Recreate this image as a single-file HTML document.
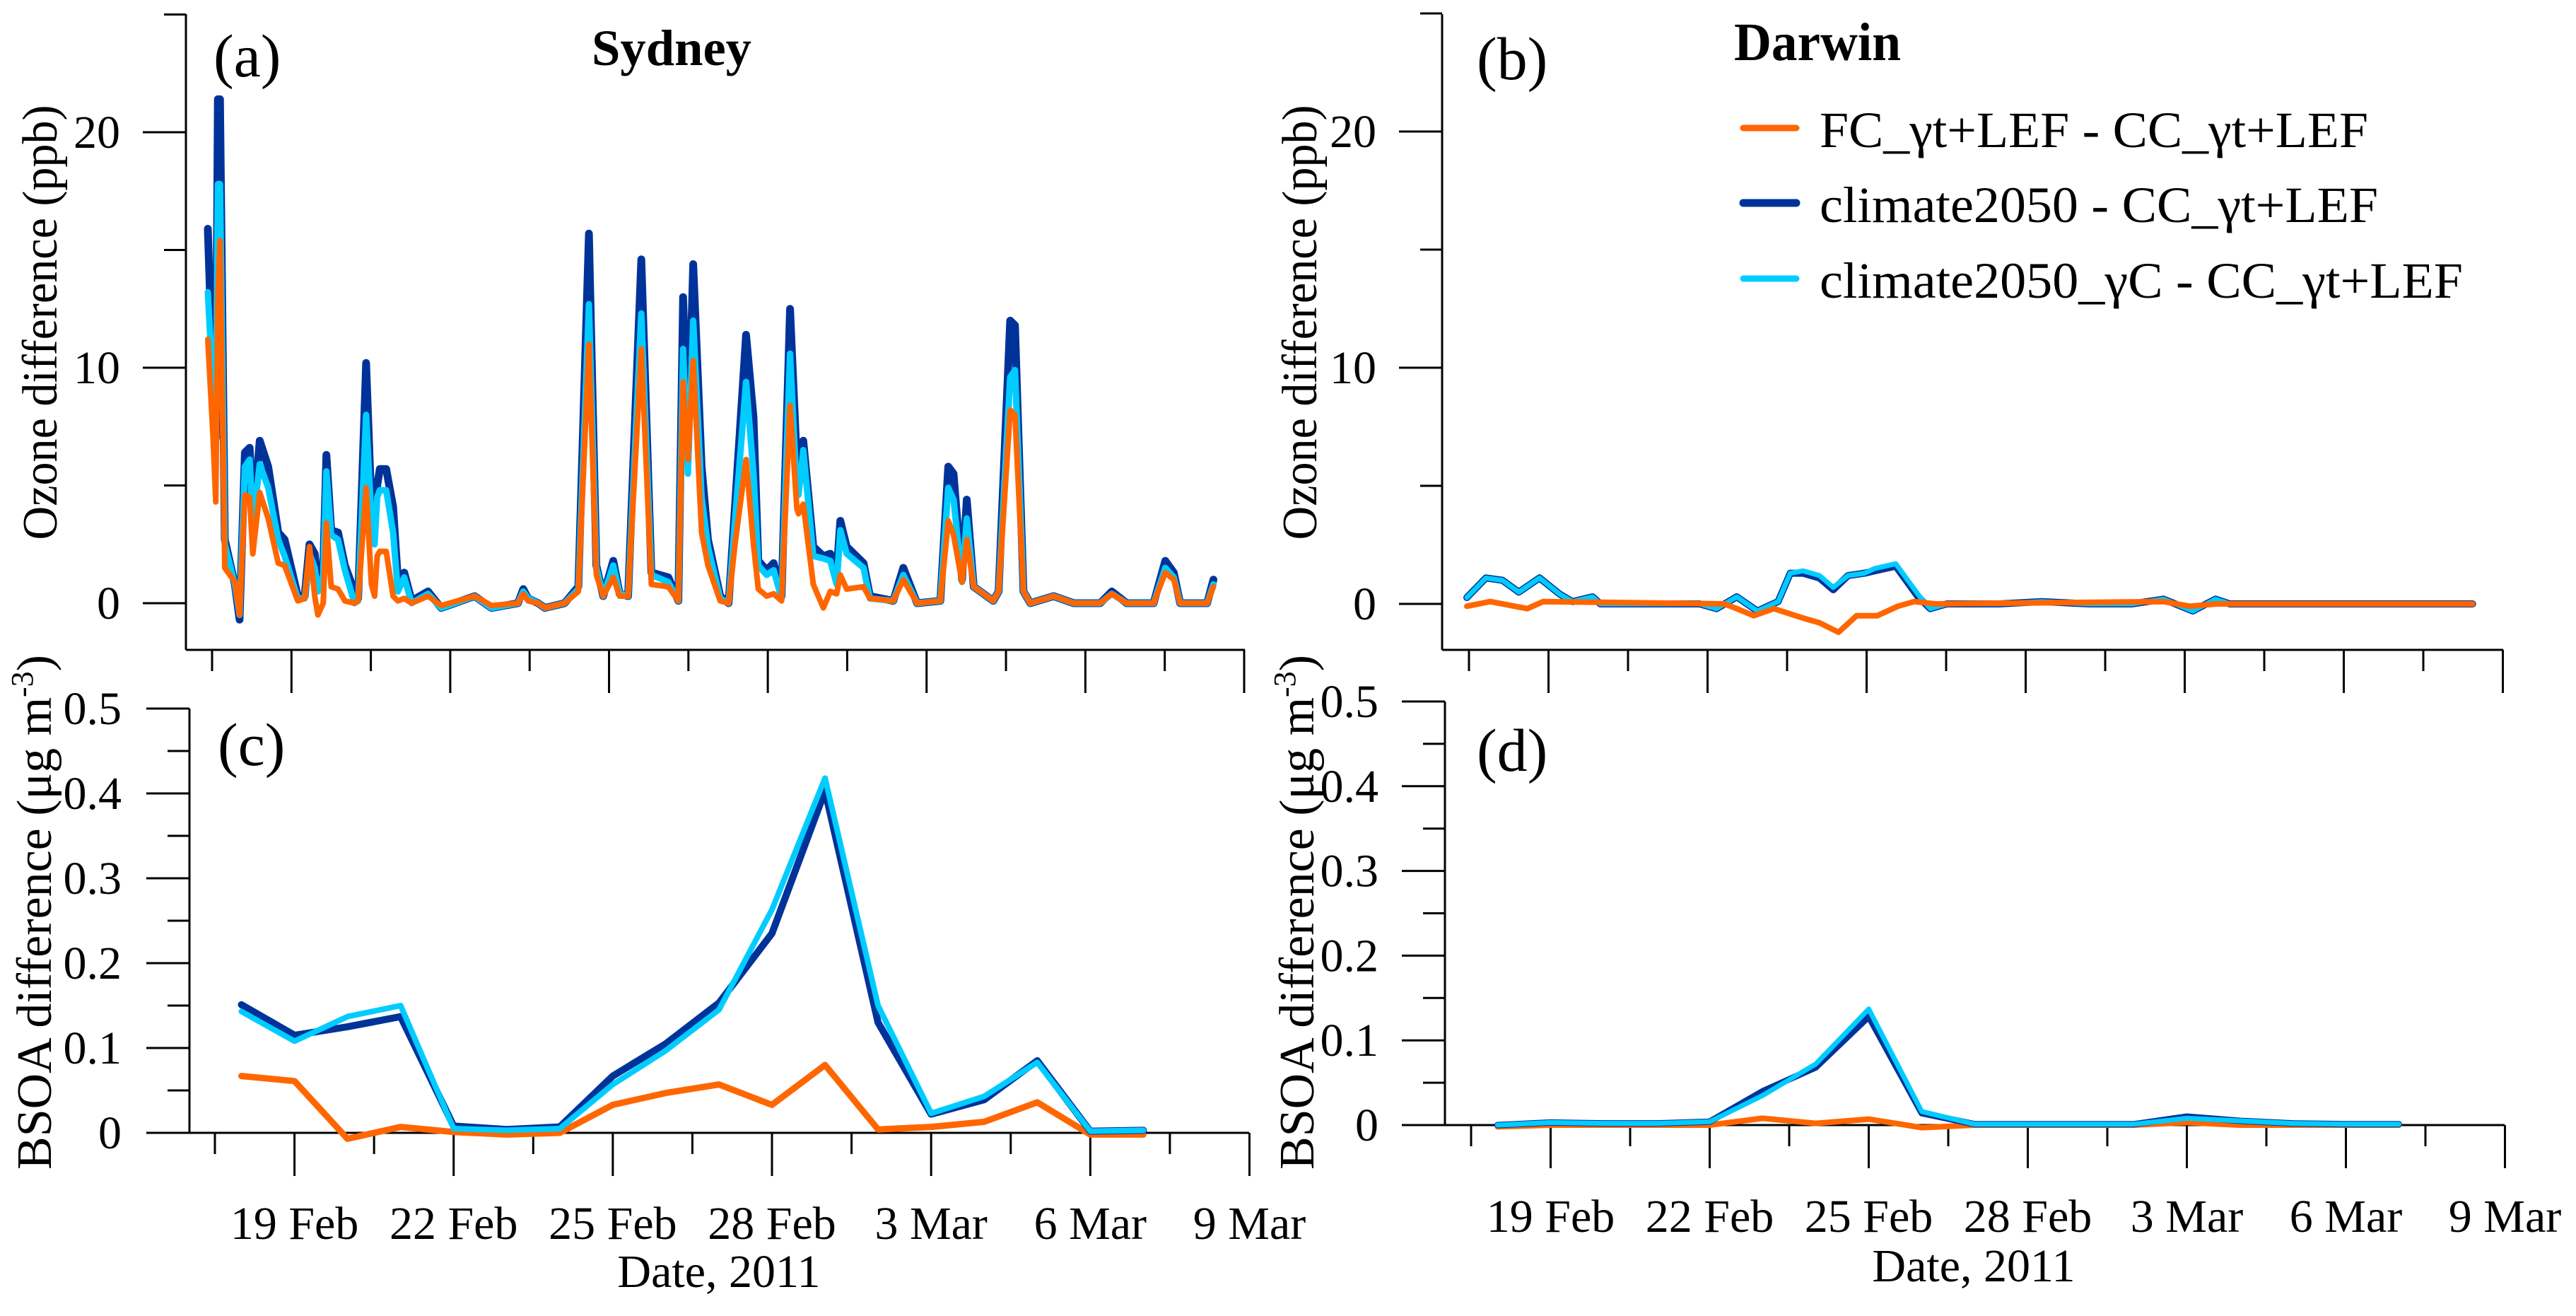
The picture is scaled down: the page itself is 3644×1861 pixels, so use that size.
<!DOCTYPE html>
<html><head><meta charset="utf-8"><style>
html,body{margin:0;padding:0;background:#fff;}
svg, svg text{font-family:"Liberation Serif","Times New Roman",serif;}
</style></head><body>
<svg id="chart" width="3644" height="1856" viewBox="0 0 3644 1856" xmlns="http://www.w3.org/2000/svg" font-family="Liberation Serif, serif">
<rect x="0" y="0" width="3644" height="1856" fill="#fff"/>
<g id="g-a"></g>
<g id="g-b"></g>
<g id="g-c"></g>
<g id="g-d"></g>
<g id="legend"></g>
</svg>
<script>
// ---------- DATA ----------
// days: day of Feb 2011 (29 = 1 Mar)
const sydO3Days = [17.42,17.52,17.57,17.61,17.65,17.74,17.93,18.02,18.12,18.21,18.27,18.40,18.56,18.75,18.87,19.12,19.25,19.34,19.44,19.50,19.60,19.66,19.75,19.88,20.01,20.19,20.26,20.41,20.51,20.57,20.62,20.67,20.79,20.92,21.01,21.13,21.27,21.58,21.83,22.46,22.78,23.28,23.38,23.47,23.66,23.79,24.16,24.42,24.62,24.76,24.89,25.08,25.20,25.36,25.61,25.80,26.12,26.31,26.40,26.49,26.59,26.75,26.87,27.10,27.26,27.38,27.59,27.73,27.82,27.98,28.11,28.26,28.42,28.55,28.58,28.67,28.86,29.05,29.18,29.30,29.37,29.49,29.81,29.93,30.37,30.56,30.82,31.26,31.41,31.51,31.67,31.76,31.89,32.26,32.36,32.58,32.67,32.83,32.96,33.40,33.78,34.28,34.50,34.78,35.29,35.51,35.67,35.79,36.30,36.42];
const sydO3Dark = [15.9,9,7,21.4,21.4,2.7,0.8,-0.7,6.4,6.6,3.4,6.9,5.8,3.0,2.7,0.3,0.3,2.5,2.1,0.8,1.4,6.3,3.1,3.0,1.6,0.5,0.2,10.2,4.1,3.4,5.0,5.7,5.7,4.1,1.0,1.3,0.1,0.5,-0.2,0.3,-0.2,0,0.6,0.2,0,-0.2,0,0.7,15.7,1.6,0.3,1.8,0.4,0.3,14.6,1.3,1.1,0.1,13.0,6.4,14.4,5.8,2.7,0.3,0,4.1,11.4,7.9,1.8,1.4,1.7,0.3,12.5,5.9,5.9,6.9,2.4,2.0,2.1,1.3,3.5,2.4,1.7,0.3,0.1,1.5,0,0.1,5.8,5.5,1.0,4.4,0.7,0.1,0.5,12.0,11.8,0.5,0,0.3,0,0,0.5,0,0,1.8,1.3,0,0,1.0];
const sydO3Cyan = [13.2,9,6.5,17.8,17.8,2.5,0.8,-0.5,5.8,6.1,3.3,5.9,4.9,2.7,2.0,0.2,0.2,2.1,1.5,0.5,1.2,5.6,2.9,2.7,1.4,0,0.1,8.0,3.5,2.5,4.5,4.8,4.8,3.0,0.5,1.1,0,0.4,-0.2,0.3,-0.2,0,0.5,0.2,0,-0.2,0,0.6,12.7,1.5,0.3,1.6,0.4,0.3,12.3,1.2,0.9,0.1,10.8,5.5,12.0,4.5,2.4,0.2,0,3.5,9.4,5.5,1.6,1.2,1.4,0.2,10.6,4.6,4.6,6.5,2.0,1.9,1.8,0.8,3.1,2.1,1.5,0.2,0.1,1.2,0,0.1,4.9,4.4,0.9,3.6,0.7,0.1,0.5,9.6,9.9,0.5,0,0.3,0,0,0.4,0,0,1.5,1.1,0,0,0.8];
const sydO3Orange = [11.2,7,4.3,13,15.4,1.5,0.9,-0.5,4.6,4.5,2.1,4.7,3.6,1.7,1.6,0.1,0.2,2.4,0.3,-0.5,0,3.4,0.7,0.6,0.1,0,0.1,4.9,0.8,0.3,2.0,2.2,2.2,0.3,0.1,0.2,0,0.3,-0.1,0.3,-0.1,0,0.4,0.1,0,-0.2,0,0.5,11,1.2,0.3,1.1,0.3,0.3,10.8,0.8,0.7,0.1,9.4,6.1,10.3,3.0,1.6,0.1,0,2.5,6.1,2.5,0.6,0.3,0.4,0.1,8.4,4.0,3.8,4.2,0.8,-0.2,0.5,0.4,1.2,0.6,0.7,0.2,0.1,1.0,0,0.1,3.5,2.9,0.9,2.7,0.7,0.1,0.5,8.2,8.0,0.5,0,0.3,0,0,0.4,0,0,1.3,1.0,0,0,0.7];

const darO3Days = [17.46,17.82,18.13,18.44,18.83,19.22,19.45,19.83,19.98,21.85,22.17,22.55,22.94,23.33,23.56,23.80,24.11,24.37,24.65,24.96,25.15,25.55,25.97,26.20,26.51,27.5,28.3,29.2,30.0,30.60,31.15,31.58,31.85,33.0,34.5,35.5,36.43];
const darO3Dark = [0.27,1.1,1.0,0.5,1.1,0.4,0.1,0.3,0,0,-0.2,0.3,-0.3,0.1,1.3,1.3,1.1,0.6,1.2,1.3,1.4,1.6,0.3,-0.2,0,0,0.1,0,0,0.2,-0.3,0.2,0,0,0,0,0];
const darO3Cyan = [0.27,1.1,1.0,0.5,1.1,0.4,0.1,0.3,0,0,-0.2,0.3,-0.3,0.1,1.3,1.4,1.2,0.7,1.2,1.3,1.5,1.7,0.4,-0.2,0,0,0.1,0,0,0.2,-0.3,0.2,0,0,0,0,0];
const darO3OrangeDays = [17.46,17.9,18.6,18.9,22.32,22.55,22.87,23.25,23.8,24.11,24.47,24.81,25.2,25.59,25.9,26.3,30.6,31.1,31.6,36.43];
const darO3Orange = [-0.1,0.1,-0.2,0.1,0,-0.2,-0.5,-0.2,-0.6,-0.8,-1.2,-0.5,-0.5,-0.1,0.1,0,0.1,-0.1,0,0];

const bsoaDays = [18,19,20,21,22,23,24,25,26,27,28,29,30,31,32,33,34,35];
const sydBsoaDark = [0.151,0.115,0.125,0.137,0.008,0.004,0.007,0.067,0.105,0.153,0.235,0.403,0.130,0.022,0.039,0.085,0.002,0.003];
const sydBsoaCyan = [0.143,0.108,0.137,0.150,0.005,0.003,0.005,0.057,0.097,0.145,0.263,0.418,0.150,0.023,0.043,0.083,0.002,0.003];
const sydBsoaOrange = [0.067,0.061,-0.007,0.007,0.001,-0.002,0,0.033,0.047,0.057,0.033,0.080,0.004,0.007,0.013,0.036,-0.002,-0.002];
const darBsoaDark = [0,0.003,0.002,0.002,0.004,0.040,0.068,0.128,0.014,0.001,0.001,0.001,0.001,0.010,0.005,0.002,0.001,0.001];
const darBsoaCyan = [0,0.003,0.002,0.002,0.004,0.035,0.072,0.137,0.016,0.001,0.001,0.001,0.001,0.008,0.005,0.002,0.001,0.001];
const darBsoaOrange = [-0.002,0,0,0,0,0.008,0.002,0.007,-0.003,0,0,0,0,0.003,0,0,0,0];

const dateTickLabels = ["19 Feb","22 Feb","25 Feb","28 Feb","3 Mar","6 Mar","9 Mar"];
const ozoneTicks = [0,10,20];
const ozoneMinor = [5,15,25];
const bsoaTicks = [0,0.1,0.2,0.3,0.4,0.5];
const bsoaMinor = [0.05,0.15,0.25,0.35,0.45];

// ---------- RENDER ----------
const NS = "http://www.w3.org/2000/svg";
const FONT = "Liberation Serif, Times New Roman, serif";
const C_OR = "#FF6600", C_DK = "#003399", C_CY = "#00CCFF";
function mk(parent, tag, attrs, text){
  const e = document.createElementNS(NS, tag);
  for (const k in attrs) e.setAttribute(k, attrs[k]);
  if (tag === "text") e.setAttribute("font-family", FONT);
  if (text !== undefined) e.textContent = text;
  parent.appendChild(e);
  return e;
}
function makePanel(id, cfg){
  const g = document.getElementById(id);
  const xs = d => cfg.x0 + (d - 17.5) * cfg.ppd;
  const ys = v => cfg.y0 - v * cfg.ppu;
  const ya = mk(g, "line", {x1:cfg.ax, y1:cfg.yTop, x2:cfg.ax, y2:cfg.yBot, stroke:"#000","stroke-width":3});
  
  
  const xa = mk(g, "line", {x1:cfg.ax, y1:cfg.yBot, x2:cfg.xRight, y2:cfg.yBot, stroke:"#000","stroke-width":3});
  
  
  cfg.ticks.forEach(v => {
    const t = mk(g, "line", {x1:cfg.ax-61, y1:ys(v), x2:cfg.ax, y2:ys(v), stroke:"#000","stroke-width":3});
    
    
    const l = mk(g, "text", {x:cfg.labRight, y:ys(v)+22, "text-anchor":"end","font-size":66}, cfg.fmt(v));
    
    
  });
  cfg.minor.forEach(v => {
    const t = mk(g, "line", {x1:cfg.ax-31, y1:ys(v), x2:cfg.ax, y2:ys(v), stroke:"#000","stroke-width":3});
    
    
  });
  for (let k = 0; k <= 13; k++) {
    const d = 17.5 + 1.5 * k;
    const major = (k % 2 === 1);
    const t = mk(g, "line", {x1:xs(d), y1:cfg.yBot, x2:xs(d), y2:cfg.yBot + (major?61:30), stroke:"#000","stroke-width":3});
    
    
    if (major && cfg.dateY) {
      const l = mk(g, "text", {x:xs(d), y:cfg.dateY, "text-anchor":"middle","font-size":66}, dateTickLabels[(k-1)/2]);
      
      
    }
  }
  return {g, xs, ys};
}
function drawSeries(p, days, vals, color, width, name){
  const pts = days.map((d,i) => p.xs(d).toFixed(1) + "," + p.ys(vals[i]).toFixed(1)).join(" ");
  const pl = mk(p.g, "polyline", {points:pts, fill:"none", stroke:color, "stroke-width":width, "stroke-linejoin":"round", "stroke-linecap":"round"});
  
  
}

const fmtInt = v => String(v);
const fmt1 = v => v === 0 ? "0" : v.toFixed(1);

const pa = makePanel("g-a", {x0:300, ppd:74.87, y0:853, ppu:33.3, ax:263, yTop:20, yBot:919, xRight:1761, ticks:ozoneTicks, minor:ozoneMinor, labRight:170, fmt:fmtInt});
const pb = makePanel("g-b", {x0:2078, ppd:75.0, y0:854, ppu:33.4, ax:2040, yTop:20, yBot:919, xRight:3541, ticks:ozoneTicks, minor:ozoneMinor, labRight:1947, fmt:fmtInt});
const pc = makePanel("g-c", {x0:304, ppd:75.05, y0:1602, ppu:1200, ax:268, yTop:1002, yBot:1602, xRight:1767, ticks:bsoaTicks, minor:bsoaMinor, labRight:172, fmt:fmt1, dateY:1752});
const pd = makePanel("g-d", {x0:2081, ppd:75.0, y0:1591, ppu:1198, ax:2044, yTop:992, yBot:1591, xRight:3543, ticks:bsoaTicks, minor:bsoaMinor, labRight:1950, fmt:fmt1, dateY:1742});

drawSeries(pa, sydO3Days, sydO3Dark, C_DK, 11, "sydney-ozone-climate2050");
drawSeries(pa, sydO3Days, sydO3Cyan, C_CY, 9, "sydney-ozone-climate2050-gammaC");
drawSeries(pa, sydO3Days, sydO3Orange, C_OR, 8, "sydney-ozone-fc");
drawSeries(pb, darO3Days, darO3Dark, C_DK, 10, "darwin-ozone-climate2050");
drawSeries(pb, darO3Days, darO3Cyan, C_CY, 7, "darwin-ozone-climate2050-gammaC");
drawSeries(pb, darO3OrangeDays, darO3Orange, C_OR, 8, "darwin-ozone-fc");
drawSeries(pc, bsoaDays, sydBsoaOrange, C_OR, 9, "sydney-bsoa-fc");
drawSeries(pc, bsoaDays, sydBsoaDark, C_DK, 10, "sydney-bsoa-climate2050");
drawSeries(pc, bsoaDays, sydBsoaCyan, C_CY, 8, "sydney-bsoa-climate2050-gammaC");
drawSeries(pd, bsoaDays, darBsoaOrange, C_OR, 8, "darwin-bsoa-fc");
drawSeries(pd, bsoaDays, darBsoaDark, C_DK, 9, "darwin-bsoa-climate2050");
drawSeries(pd, bsoaDays, darBsoaCyan, C_CY, 7, "darwin-bsoa-climate2050-gammaC");

// ---------- TEXT ----------
function txt(parent, attrs, s, name){
  const t = mk(parent, "text", attrs, s);
  
  
  return t;
}
const svg = document.getElementById("chart");
txt(svg, {x:302, y:108, "font-size":86}, "(a)", "panel-label-a");
txt(svg, {x:2089, y:112, "font-size":86}, "(b)", "panel-label-b");
txt(svg, {x:308, y:1082, "font-size":86}, "(c)", "panel-label-c");
txt(svg, {x:2089, y:1090, "font-size":86}, "(d)", "panel-label-d");
txt(svg, {x:950, y:92, "font-size":72, "font-weight":"bold", "text-anchor":"middle", textLength:226, lengthAdjust:"spacingAndGlyphs"}, "Sydney", "title-sydney");
txt(svg, {x:2571, y:85, "font-size":76, "font-weight":"bold", "text-anchor":"middle", textLength:236, lengthAdjust:"spacingAndGlyphs"}, "Darwin", "title-darwin");

txt(svg, {x:0, y:0, "font-size":70, "text-anchor":"middle", textLength:615, lengthAdjust:"spacingAndGlyphs", transform:"translate(80,456) rotate(-90)"}, "Ozone difference (ppb)", "y-axis-title-a");
txt(svg, {x:0, y:0, "font-size":70, "text-anchor":"middle", textLength:615, lengthAdjust:"spacingAndGlyphs", transform:"translate(1862,456) rotate(-90)"}, "Ozone difference (ppb)", "y-axis-title-b");
const tc = txt(svg, {x:0, y:0, "font-size":70, "text-anchor":"middle", transform:"translate(72,1290) rotate(-90)"}, "", "y-axis-title-c");
tc.innerHTML = 'BSOA difference (μg m<tspan font-size="44" dy="-26">-3</tspan><tspan dy="26">)</tspan>';
const td = txt(svg, {x:0, y:0, "font-size":70, "text-anchor":"middle", transform:"translate(1858,1290) rotate(-90)"}, "", "y-axis-title-d");
td.innerHTML = 'BSOA difference (μg m<tspan font-size="44" dy="-26">-3</tspan><tspan dy="26">)</tspan>';
txt(svg, {x:1017, y:1820, "font-size":66, "text-anchor":"middle"}, "Date, 2011", "x-axis-title-c");
txt(svg, {x:2792, y:1812, "font-size":66, "text-anchor":"middle"}, "Date, 2011", "x-axis-title-d");

// ---------- LEGEND ----------
const lg = document.getElementById("legend");
const legendLabels = ["FC_γt+LEF - CC_γt+LEF","climate2050 - CC_γt+LEF","climate2050_γC - CC_γt+LEF"];
const legendColors = [C_OR, C_DK, C_CY];
const legendWidths = [9, 11, 9];
const legendLens = [776, 790, 910];
const legendY = [181, 287, 394];
legendLabels.forEach((s, i) => {
  const l = mk(lg, "line", {x1:2466, y1:legendY[i], x2:2541, y2:legendY[i], stroke:legendColors[i], "stroke-width":legendWidths[i], "stroke-linecap":"round"});
  
  
  const t = mk(lg, "text", {x:2574, y:legendY[i]+27, "font-size":72, textLength:legendLens[i], lengthAdjust:"spacingAndGlyphs"}, s);
  
  
});
</script>
</body></html>
